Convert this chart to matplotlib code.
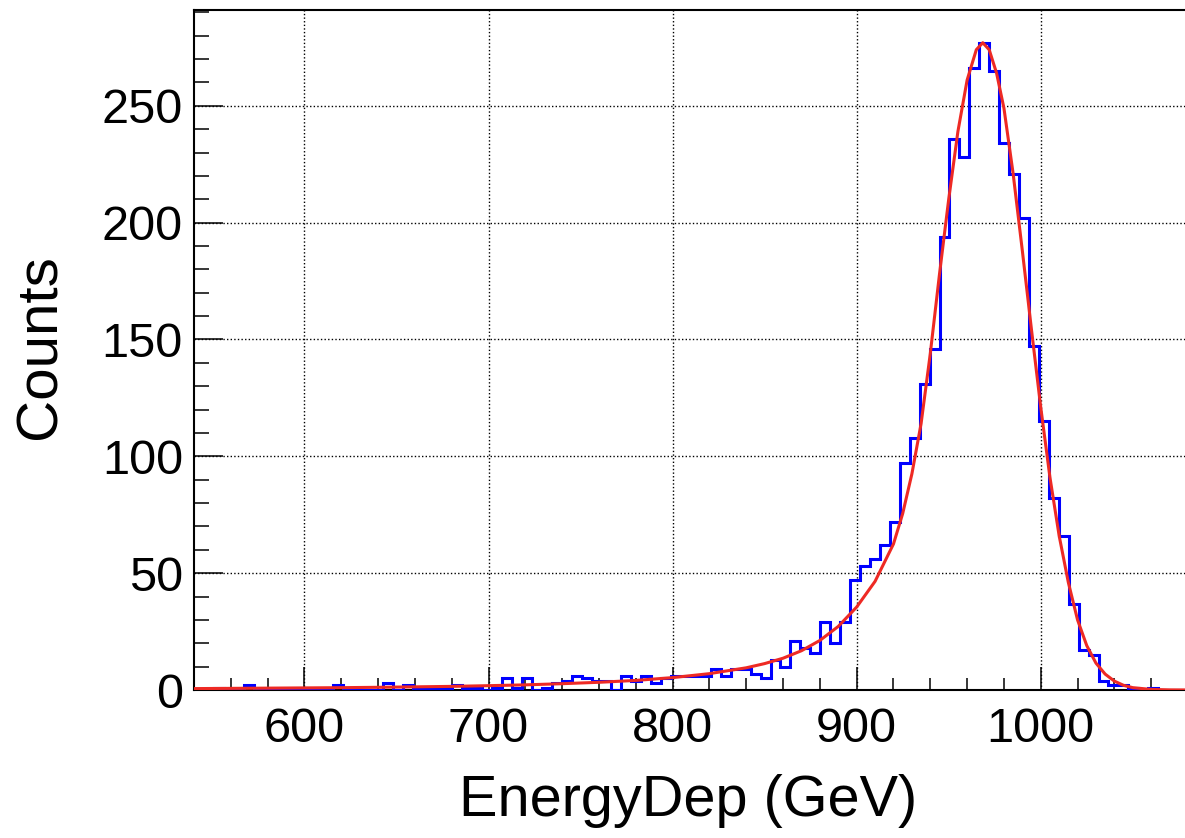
import numpy as np
import matplotlib.pyplot as plt
from matplotlib.ticker import MultipleLocator

# energy deposit histogram, 100 bins from 540 to 1080 GeV
x_min, x_max, n_bins = 540, 1080, 100
counts = [
    0, 0, 1, 0, 0, 2, 0, 0, 0, 0,
    0, 0, 0, 0, 2, 0, 0, 0, 0, 3,
    0, 2, 1, 1, 1, 1, 2, 1, 1, 0,
    1, 5, 1, 5, 0, 1, 3, 4, 6, 5,
    4, 4, 0, 6, 4, 6, 3, 5, 6, 6,
    6, 6, 9, 6, 9, 9, 7, 5, 13, 10,
    21, 18, 16, 29, 20, 29, 47, 53, 56, 62,
    72, 97, 108, 131, 146, 194, 236, 228, 266, 277,
    265, 234, 221, 202, 147, 115, 82, 66, 37, 17,
    15, 4, 2, 2, 1, 0, 1, 0, 0, 0,
]

# fitted curve
fit_x = [540, 560, 580, 600, 620, 640, 660, 680, 700, 720, 740, 760, 780, 800,
         820, 840, 850, 860, 870, 880, 890, 900, 910, 920, 925, 930, 935, 940,
         945, 950, 955, 960, 965, 968.5, 972, 976, 980, 985, 990, 995, 1000,
         1005, 1010, 1015, 1020, 1025, 1030, 1035, 1040, 1045, 1050, 1060, 1070, 1080]
fit_y = [0.6, 0.7, 0.8, 0.9, 1.0, 1.15, 1.35, 1.55, 1.85, 2.2, 2.7, 3.3, 4.1, 5.3,
         7.0, 9.5, 11.3, 13.6, 16.8, 21.2, 27.2, 35.5, 46.5, 62.5, 75.5, 92.5, 114, 144,
         178, 210, 239, 261, 274, 277, 274, 264, 249, 221, 188, 154, 121,
         91, 66, 46, 30, 19, 11.5, 6.8, 3.8, 2.0, 1.0, 0.25, 0.05, 0.01]

plt.rcParams['font.family'] = ['Liberation Sans', 'DejaVu Sans']

W, H = 1185, 838
fig = plt.figure(figsize=(W / 100, H / 100), dpi=100)
ax = fig.add_axes([194 / W, 1 - 690 / H, (1188 - 194) / W, 680 / H])

edges = np.linspace(x_min, x_max, n_bins + 1)
ax.stairs(counts, edges, color='#0000ff', linewidth=2.2, zorder=3)
ax.plot(fit_x, fit_y, color='#ee2a24', linewidth=2.2, zorder=4)

ax.set_xlim(x_min, x_max)
ax.set_ylim(0, 291)

ax.xaxis.set_major_locator(MultipleLocator(100))
ax.xaxis.set_minor_locator(MultipleLocator(20))
ax.yaxis.set_major_locator(MultipleLocator(50))
ax.yaxis.set_minor_locator(MultipleLocator(10))

ax.tick_params(axis='both', which='both', direction='in', top=False, right=False,
               labelsize=35, width=1.1, color='black')
ax.tick_params(axis='x', which='major', length=16.5, pad=12)
ax.tick_params(axis='x', which='minor', length=8.5)
ax.tick_params(axis='y', which='major', length=21, pad=8)
ax.tick_params(axis='y', which='minor', length=10.8)

ax.grid(True, which='major', color='black', linestyle=(0, (1, 1.6)), linewidth=1.0)
ax.set_axisbelow(True)

for s in ax.spines.values():
    s.set_linewidth(1.5)
ax.spines['right'].set_visible(False)

ax.set_xlabel('EnergyDep (GeV)', fontsize=41.5)
ax.xaxis.set_label_coords((688 - 194) / 994, (690 - 774) / 680)
ax.set_ylabel('Counts', fontsize=42)
ax.yaxis.set_label_coords((68 - 194) / 994, 0.5 + 3 / 680)

fig.savefig('out.png', dpi=100)
